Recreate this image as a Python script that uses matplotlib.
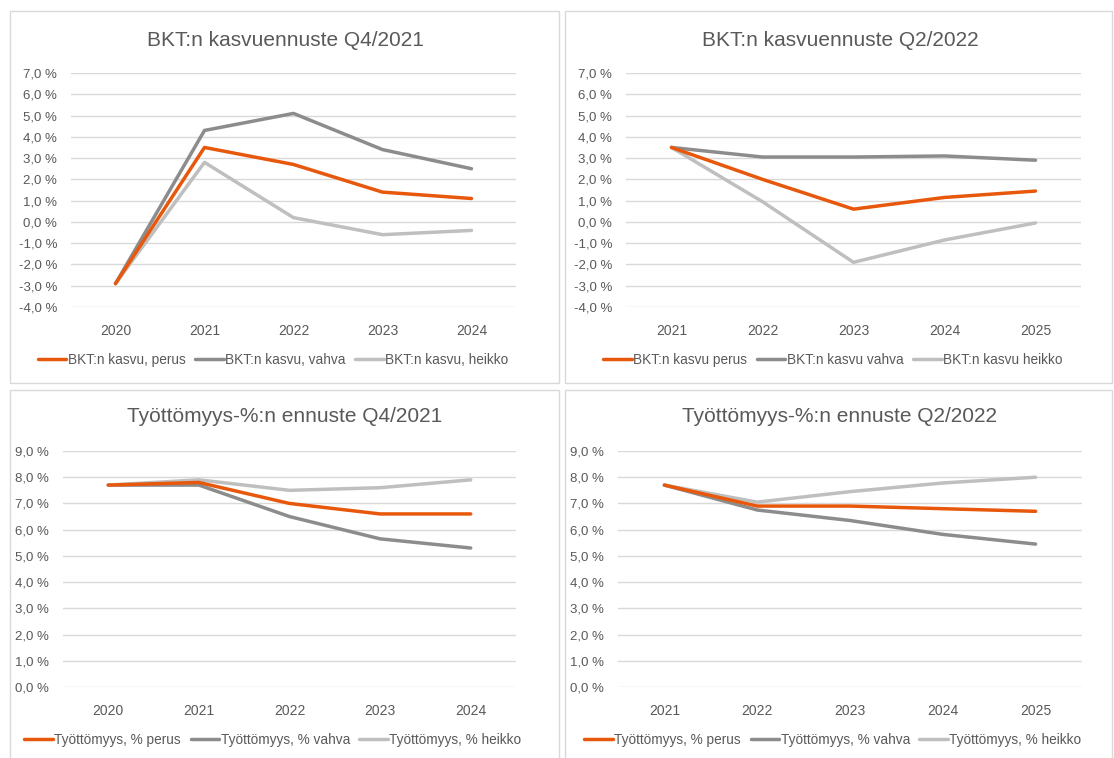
import matplotlib.pyplot as plt
from matplotlib.ticker import FuncFormatter
from matplotlib.patches import Rectangle

# data
vuodet_q4 = ['2020', '2021', '2022', '2023', '2024']
vuodet_q2 = ['2021', '2022', '2023', '2024', '2025']

bkt_q4_perus = [-2.9, 3.5, 2.7, 1.4, 1.1]
bkt_q4_vahva = [-2.9, 4.3, 5.1, 3.4, 2.5]
bkt_q4_heikko = [-2.9, 2.8, 0.2, -0.6, -0.4]

bkt_q2_perus = [3.5, 2.0, 0.6, 1.15, 1.45]
bkt_q2_vahva = [3.5, 3.05, 3.05, 3.1, 2.9]
bkt_q2_heikko = [3.5, 0.95, -1.9, -0.85, -0.05]

tt_q4_perus = [7.7, 7.8, 7.0, 6.6, 6.6]
tt_q4_vahva = [7.7, 7.7, 6.5, 5.65, 5.3]
tt_q4_heikko = [7.7, 7.9, 7.5, 7.6, 7.9]

tt_q2_perus = [7.7, 6.9, 6.9, 6.8, 6.7]
tt_q2_vahva = [7.7, 6.75, 6.35, 5.82, 5.45]
tt_q2_heikko = [7.7, 7.05, 7.45, 7.78, 8.0]

plt.rcParams['font.family'] = ['Liberation Sans', 'DejaVu Sans']

W, H = 1114, 758
fig = plt.figure(figsize=(W / 100, H / 100), dpi=100)
fig.patch.set_facecolor('white')

ORANSSI = '#E8580C'
TUMMA = '#8C8C8C'
VAALEA = '#BFBFBF'
TEKSTI = '#595959'
RUUDUKKO = '#D9D9D9'


def px_rect(x0, y0, x1, y1):
    return [x0 / W, 1 - y1 / H, (x1 - x0) / W, (y1 - y0) / H]


# panel borders
for (x0, y0, x1, y1) in [(10, 11, 559, 383), (565, 11, 1112, 383),
                         (10, 390, 559, 770), (565, 390, 1112, 770)]:
    fig.patches.append(Rectangle((x0 / W, 1 - y1 / H), (x1 - x0) / W, (y1 - y0) / H,
                                 transform=fig.transFigure, fill=False,
                                 edgecolor=RUUDUKKO, linewidth=1))

pct = FuncFormatter(lambda v, p: ('%.1f %%' % v).replace('.', ','))


def piirra(rect, vuodet, sarjat, nimet, otsikko, ylim, yticks, title_xy, leg_xy):
    ax = fig.add_axes(px_rect(*rect))
    x = range(len(vuodet))
    for arvot, vari, nimi in zip(sarjat, [ORANSSI, TUMMA, VAALEA], nimet):
        ax.plot(x, arvot, color=vari, linewidth=2.5, label=nimi, solid_capstyle='round')
    ax.set_xlim(-0.5, len(vuodet) - 0.5)
    ax.set_ylim(*ylim)
    ax.set_yticks(yticks)
    ax.yaxis.set_major_formatter(pct)
    ax.set_xticks(list(x))
    ax.set_xticklabels(vuodet)
    ax.grid(axis='y', color=RUUDUKKO, linewidth=1)
    ax.set_axisbelow(True)
    for s in ax.spines.values():
        s.set_visible(False)
    ax.tick_params(length=0, colors=TEKSTI, labelsize=9.5)
    ax.tick_params(axis='x', pad=12, labelsize=10)
    ax.tick_params(axis='y', pad=10)
    # orange line on top
    ax.lines[0].set_zorder(5)
    fig.text(title_xy[0] / W, 1 - title_xy[1] / H, otsikko, ha='center', va='center',
             fontsize=15, color=TEKSTI)
    h, l = ax.get_legend_handles_labels()
    fig.legend(h, l, loc='center', bbox_to_anchor=(leg_xy[0] / W, 1 - leg_xy[1] / H),
               ncol=3, frameon=False, fontsize=9.8, labelcolor=TEKSTI,
               handlelength=2.1, handletextpad=0.1, columnspacing=0.7)
    return ax


piirra((71, 73, 516, 307), vuodet_q4, [bkt_q4_perus, bkt_q4_vahva, bkt_q4_heikko],
       ['BKT:n kasvu, perus', 'BKT:n kasvu, vahva', 'BKT:n kasvu, heikko'],
       'BKT:n kasvuennuste Q4/2021', (-4, 7), range(-4, 8), (285, 41), (273, 360))

piirra((626, 73, 1081, 307), vuodet_q2, [bkt_q2_perus, bkt_q2_vahva, bkt_q2_heikko],
       ['BKT:n kasvu perus', 'BKT:n kasvu vahva', 'BKT:n kasvu heikko'],
       'BKT:n kasvuennuste Q2/2022', (-4, 7), range(-4, 8), (840, 41), (833, 360))

piirra((63, 451, 516, 687), vuodet_q4, [tt_q4_perus, tt_q4_vahva, tt_q4_heikko],
       ['Työttömyys, % perus', 'Työttömyys, % vahva', 'Työttömyys, % heikko'],
       'Työttömyys-%:n ennuste Q4/2021', (0, 9), range(0, 10), (285, 416), (273, 740))

piirra((618, 451, 1082, 687), vuodet_q2, [tt_q2_perus, tt_q2_vahva, tt_q2_heikko],
       ['Työttömyys, % perus', 'Työttömyys, % vahva', 'Työttömyys, % heikko'],
       'Työttömyys-%:n ennuste Q2/2022', (0, 9), range(0, 10), (840, 416), (833, 740))

fig.savefig('out.png', dpi=100, facecolor='white')
